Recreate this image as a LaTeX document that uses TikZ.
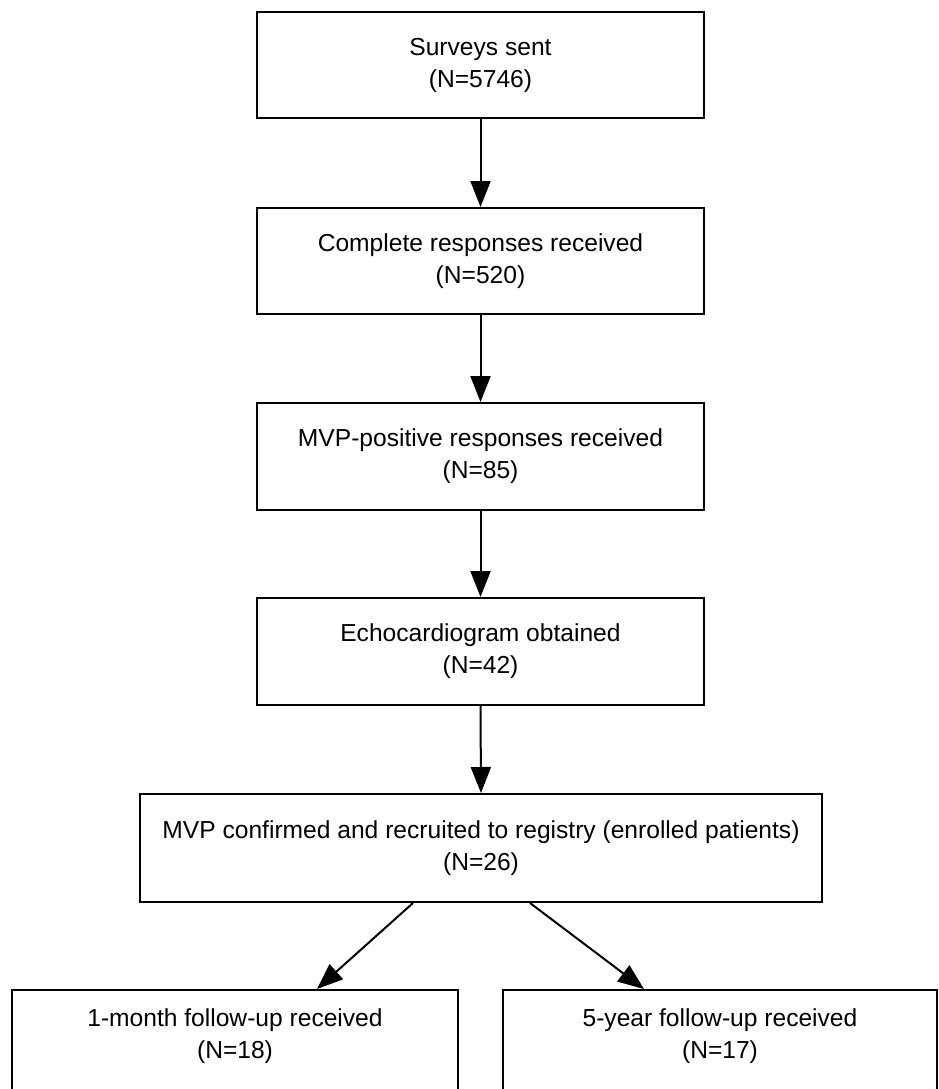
\documentclass[tikz,border=0pt]{standalone}
\usepackage{fontspec}
\setmainfont{Liberation Sans}
\usetikzlibrary{arrows.meta,calc}
\begin{document}
\begin{tikzpicture}[x=1pt,y=1pt,
  box/.style={draw=black,line width=2pt,rectangle,align=center,
    font=\fontsize{24.6}{32}\selectfont,inner sep=0pt},
  plain/.style={align=center,font=\fontsize{24.6}{32}\selectfont,inner sep=0pt},
  arr/.style={line width=2pt,-{Triangle[length=26pt,width=20pt]}}]
\useasboundingbox (0,0) rectangle (939,-1089);
\node[box,minimum width=447pt,minimum height=106pt] (b1) at (480.5,-65) {Surveys sent\\(N=5746)};
\node[box,minimum width=447pt,minimum height=106pt] (b2) at (480.5,-261) {Complete responses received\\(N=520)};
\node[box,minimum width=447pt,minimum height=107pt] (b3) at (480.5,-456.5) {MVP-positive responses received\\(N=85)};
\node[box,minimum width=447pt,minimum height=107pt] (b4) at (480.5,-651.5) {Echocardiogram obtained\\(N=42)};
\node[box,minimum width=682pt,minimum height=108pt] (b5) at (481,-848) {MVP confirmed and recruited to registry (enrolled patients)\\(N=26)};
\node[box,minimum width=446pt,minimum height=110pt] (lbox) at (235,-1045) {};
\node[plain] (ltext) at (235,-1036) {1-month follow-up received\\(N=18)};
\node[box,minimum width=434pt,minimum height=110pt] (rbox) at (720,-1045) {};
\node[plain] (rtext) at (720,-1036) {5-year follow-up received\\(N=17)};
\draw[arr] (b1.south) -- (b2.north);
\draw[arr] (b2.south) -- (b3.north);
\draw[arr] (b3.south) -- (b4.north);
\draw[arr] (b4.south) -- (b5.north);
\draw[arr] ($(b5.south)+(-68,0)$) -- ($(lbox.north)+(82,0)$);
\draw[arr] ($(b5.south)+(49,0)$) -- ($(rbox.north)+(-76,0)$);
\end{tikzpicture}
\end{document}
